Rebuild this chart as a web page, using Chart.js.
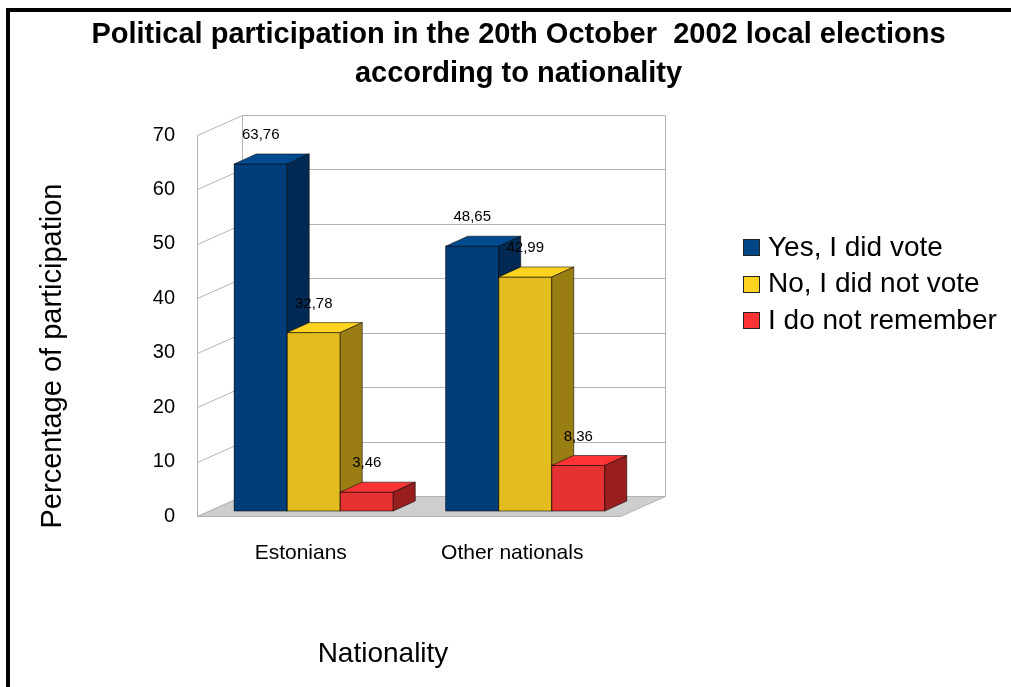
<!DOCTYPE html>
<html>
<head>
<meta charset="utf-8">
<script src="https://cdn.jsdelivr.net/npm/chart.js@4"></script>
<style>
  body { margin: 0; background: #fff; }
  #wrap { position: relative; width: 1011px; height: 687px; overflow: hidden; background: #fff; }
  #myChart { position: absolute; left: 0; top: 0; }
  #frame { position: absolute; left: 6px; top: 8px; width: 1100px; height: 700px;
           border-top: 4px solid #000; border-left: 4px solid #000; pointer-events: none; }
</style>
</head>
<body>
<div id="wrap">
  <canvas id="myChart" width="1011" height="687"></canvas>
  <div id="frame"></div>
</div>
<script>
const categories = ['Estonians', 'Other nationals'];
const seriesNames = ['Yes, I did vote', 'No, I did not vote', 'I do not remember'];
const yesVote = [63.76, 48.65];
const noVote = [32.78, 42.99];
const dontRemember = [3.46, 8.36];
const yTicks = [0, 10, 20, 30, 40, 50, 60, 70];

const FONT = '"Liberation Sans", Arial, sans-serif';

// front / top / side shades and legend colour for each series
const shades = [
    { front: '#003e7b', top: '#004a90', side: '#002a53', legend: '#004586' },
    { front: '#e3bd1f', top: '#ffd320', side: '#9a7e14', legend: '#ffd320' },
    { front: '#e43131', top: '#ff3434', side: '#991f1f', legend: '#ff3333' }
];

// depth of the bars and of the walls, relative to the bar front plane
const BAR_DX = 22, BAR_DY = -10;
const FRONT = { dx: -11, dy: 5 };
const BACK = { dx: 34, dy: -15 };

function px(v) { return Math.round(v) + 0.5; }

function poly(ctx, pts, fill, stroke) {
    ctx.beginPath();
    ctx.moveTo(pts[0][0], pts[0][1]);
    for (let i = 1; i < pts.length; i++) ctx.lineTo(pts[i][0], pts[i][1]);
    ctx.closePath();
    if (fill) { ctx.fillStyle = fill; ctx.fill(); }
    if (stroke) { ctx.strokeStyle = stroke; ctx.stroke(); }
}

function line(ctx, x1, y1, x2, y2) {
    ctx.beginPath();
    ctx.moveTo(x1, y1);
    ctx.lineTo(x2, y2);
    ctx.stroke();
}

const threeD = {
    id: 'threeD',
    beforeDatasetsDraw(chart) {
        const { ctx, chartArea: a, scales: { y } } = chart;
        const L = a.left, R = a.right;
        const y0 = y.getPixelForValue(yTicks[0]);
        const yTop = y.getPixelForValue(yTicks[yTicks.length - 1]);
        ctx.save();
        ctx.lineWidth = 1;
        ctx.strokeStyle = '#b3b3b3';
        // back wall grid + side wall grid
        yTicks.forEach(v => {
            const p = y.getPixelForValue(v);
            line(ctx, px(L + BACK.dx), px(p + BACK.dy), px(R + BACK.dx), px(p + BACK.dy));
            line(ctx, px(L + FRONT.dx), px(p + FRONT.dy), px(L + BACK.dx), px(p + BACK.dy));
        });
        line(ctx, px(L + FRONT.dx), px(yTop + FRONT.dy), px(L + FRONT.dx), px(y0 + FRONT.dy));
        line(ctx, px(L + BACK.dx), px(yTop + BACK.dy), px(L + BACK.dx), px(y0 + BACK.dy));
        line(ctx, px(R + BACK.dx), px(yTop + BACK.dy), px(R + BACK.dx), px(y0 + BACK.dy));
        // floor
        poly(ctx, [
            [px(L + FRONT.dx), px(y0 + FRONT.dy)],
            [px(R + FRONT.dx), px(y0 + FRONT.dy)],
            [px(R + BACK.dx), px(y0 + BACK.dy)],
            [px(L + BACK.dx), px(y0 + BACK.dy)]
        ], '#cecece', '#b3b3b3');
        ctx.restore();
    },
    afterDatasetsDraw(chart) {
        const { ctx } = chart;
        const metas = chart.data.datasets.map((d, i) => chart.getDatasetMeta(i));
        ctx.save();
        ctx.lineWidth = 1;
        categories.forEach((c, j) => {
            metas.forEach((meta, i) => {
                const bar = meta.data[j];
                const s = shades[i];
                const l = bar.x - bar.width / 2, r = bar.x + bar.width / 2;
                const t = bar.y, b = bar.base;
                poly(ctx, [[l, t], [r, t], [r, b], [l, b]], s.front, 'rgba(0,0,0,0.55)');
                poly(ctx, [[l, t], [r, t], [r + BAR_DX, t + BAR_DY], [l + BAR_DX, t + BAR_DY]], s.top, 'rgba(0,0,0,0.55)');
                poly(ctx, [[r, t], [r + BAR_DX, t + BAR_DY], [r + BAR_DX, b + BAR_DY], [r, b]], s.side, 'rgba(0,0,0,0.55)');
            });
        });
        // value labels
        ctx.fillStyle = '#000';
        ctx.font = '15px ' + FONT;
        ctx.textAlign = 'center';
        ctx.textBaseline = 'middle';
        metas.forEach((meta, i) => {
            meta.data.forEach((bar, j) => {
                const v = chart.data.datasets[i].data[j];
                ctx.fillText(v.toFixed(2).replace('.', ','), bar.x, bar.y + BAR_DY - 19);
            });
        });
        ctx.restore();
    },
    afterDraw(chart) {
        const { ctx } = chart;
        ctx.save();
        ctx.fillStyle = '#000';
        ctx.textBaseline = 'middle';
        // axis titles
        ctx.font = '29px ' + FONT;
        ctx.textAlign = 'center';
        ctx.save();
        ctx.translate(53, 356);
        ctx.rotate(-Math.PI / 2);
        ctx.fillText('Percentage of participation', 0, 0);
        ctx.restore();
        ctx.font = '28px ' + FONT;
        ctx.fillText('Nationality', 383, 654);
        // legend
        ctx.textAlign = 'left';
        seriesNames.forEach((name, i) => {
            const cy = 247 + i * 36.5;
            ctx.fillStyle = shades[i].legend;
            ctx.fillRect(743, Math.round(cy - 8), 17, 17);
            ctx.strokeStyle = '#222';
            ctx.lineWidth = 1;
            ctx.strokeRect(743.5, Math.round(cy - 8) + 0.5, 16, 16);
            ctx.fillStyle = '#000';
            ctx.font = '28px ' + FONT;
            ctx.fillText(name, 768, cy + 1);
        });
        ctx.restore();
    }
};

const ctx = document.getElementById('myChart').getContext('2d');
new Chart(ctx, {
    type: 'bar',
    data: {
        labels: categories,
        datasets: [
            { label: seriesNames[0], data: yesVote, backgroundColor: shades[0].front },
            { label: seriesNames[1], data: noVote, backgroundColor: shades[1].front },
            { label: seriesNames[2], data: dontRemember, backgroundColor: shades[2].front }
        ]
    },
    options: {
        responsive: false,
        animation: false,
        devicePixelRatio: 1,
        layout: { padding: { left: 26, right: 0, top: 0, bottom: 0 } },
        datasets: {
            bar: { categoryPercentage: 0.752, barPercentage: 1, borderWidth: 0 }
        },
        plugins: {
            legend: { display: false },
            tooltip: { enabled: false },
            title: {
                display: true,
                text: ['Political participation in the 20th October  2002 local elections',
                       'according to nationality'],
                color: '#000',
                font: { family: FONT, size: 29, weight: 'bold', lineHeight: '39px' },
                padding: { top: 15, bottom: 37 }
            }
        },
        scales: {
            x: {
                grid: { display: false },
                border: { display: false },
                ticks: {
                    color: '#000',
                    font: { family: FONT, size: 21 },
                    padding: 22,
                    labelOffset: -13
                },
                afterFit(s) { s.height = 176; }
            },
            y: {
                min: yTicks[0],
                max: yTicks[yTicks.length - 1],
                grid: { display: false, drawTicks: false },
                border: { display: false },
                ticks: {
                    stepSize: 10,
                    color: '#000',
                    font: { family: FONT, size: 20 },
                    padding: 33,
                    labelOffset: 5
                },
                afterBuildTicks(s) { s.ticks = yTicks.map(v => ({ value: v })); },
                afterFit(s) { s.width = 182; }
            },
            pad: {
                type: 'linear',
                position: 'right',
                grid: { display: false },
                border: { display: false },
                ticks: { display: false },
                afterFit(s) { s.width = 380; }
            }
        }
    },
    plugins: [threeD]
});
</script>
</body>
</html>
